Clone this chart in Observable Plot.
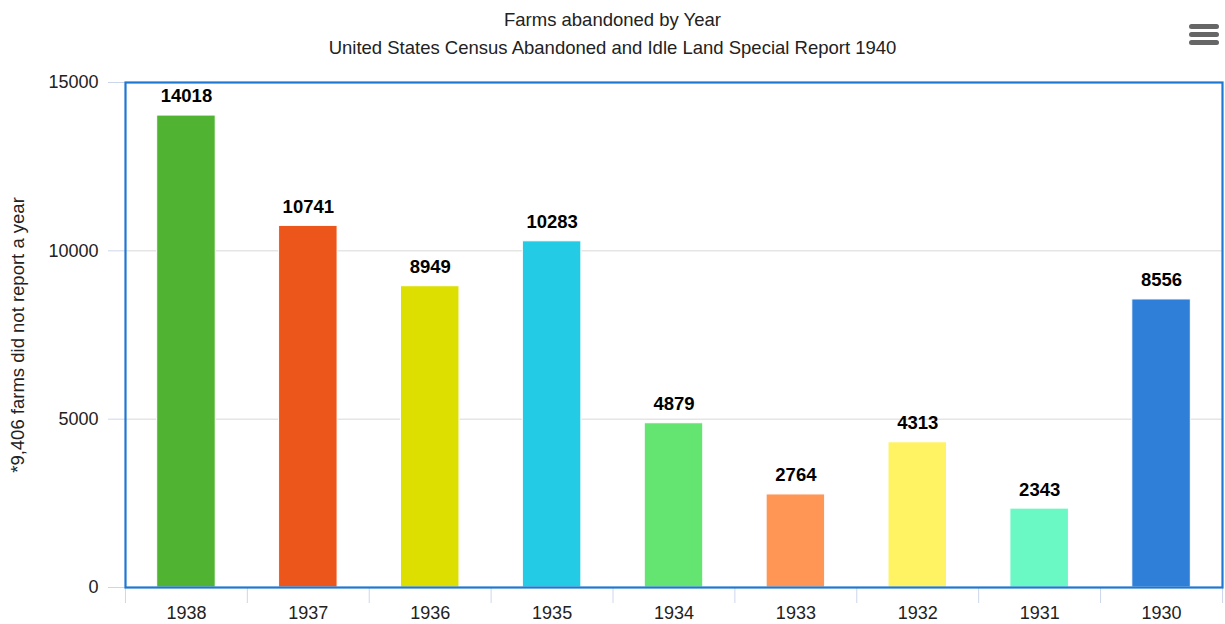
<!DOCTYPE html>
<html>
<head>
<meta charset="utf-8">
<script src="https://cdn.jsdelivr.net/npm/d3@7"></script>
<script src="https://cdn.jsdelivr.net/npm/@observablehq/plot@0.6"></script>
<style>
  html, body { margin: 0; padding: 0; background: #fff; }
  body { font-family: "Liberation Sans", Arial, sans-serif; width: 1225px; height: 624px; overflow: hidden; }
  #header { position: relative; width: 1225px; height: 62px; }
  #title { position: absolute; left: 0; width: 1225px; top: 9px; text-align: center; font-size: 18.5px; color: #222; line-height: 22px; }
  #subtitle { position: absolute; left: 0; width: 1225px; top: 37px; text-align: center; font-size: 18.5px; color: #222; line-height: 22px; }
  #menu { position: absolute; left: 1187px; top: 22px; }
  #chart svg { display: block; }
</style>
</head>
<body>
<div id="header">
  <div id="title"></div>
  <div id="subtitle"></div>
  <svg id="menu" width="34" height="26" viewBox="0 0 34 26">
    <rect x="2" y="2" width="30" height="5" rx="2.5" fill="#666"/>
    <rect x="2" y="10" width="30" height="5" rx="2.5" fill="#666"/>
    <rect x="2" y="18" width="30" height="5" rx="2.5" fill="#666"/>
  </svg>
</div>
<div id="chart"></div>
<script>
const titleText = "Farms abandoned by Year";
const subtitleText = "United States Census Abandoned and Idle Land Special Report 1940";
const yAxisTitle = "*9,406 farms did not report a year";

const years = ["1938", "1937", "1936", "1935", "1934", "1933", "1932", "1931", "1930"];
const farms = [14018, 10741, 8949, 10283, 4879, 2764, 4313, 2343, 8556];
const barColors = ["#50b432", "#ed561b", "#dddf00", "#24cbe5", "#64e572", "#ff9655", "#fff263", "#6af9c4", "#2f7ed8"];
const yTicks = [0, 5000, 10000, 15000];

document.getElementById("title").textContent = titleText;
document.getElementById("subtitle").textContent = subtitleText;

const data = years.map((y, i) => ({year: y, value: farms[i], color: barColors[i]}));

const chart = Plot.plot({
  width: 1225,
  height: 562,
  marginTop: 20,
  marginBottom: 37,
  marginLeft: 125,
  marginRight: 3,
  style: {fontFamily: "'Liberation Sans', Arial, sans-serif", background: "#fff"},
  x: {domain: years, paddingInner: 0.52, paddingOuter: 0.26, round: false},
  y: {domain: [0, 15000]},
  marks: [
    Plot.gridY(yTicks, {stroke: "#d8d8d8", strokeOpacity: 1}),
    Plot.axisY(yTicks, {tickSize: 17, tickPadding: 10, stroke: "#ccd6eb", fill: "#222", fontSize: 18,
      tickFormat: d => String(d),
      label: null}),
    Plot.text([yAxisTitle], {frameAnchor: "left", text: d => d, rotate: -90, dx: -107, fontSize: 18.5, fill: "#222", textAnchor: "middle", lineAnchor: "middle"}),
    Plot.barY(data, {x: "year", y: "value", fill: "color", stroke: "white", strokeWidth: 1}),
    Plot.text(data, {x: "year", y: "value", text: d => String(d.value), dy: -19, lineAnchor: "middle",
      fontWeight: "bold", fontSize: 18.5, fill: "#000"}),
    Plot.ruleX(years, {x: d => d, dx: -61, y1: 0, y2: 0, insetBottom: -16, stroke: "#ccd6eb"}),
    Plot.ruleX([years[years.length - 1]], {x: d => d, dx: 61, y1: 0, y2: 0, insetBottom: -16, stroke: "#ccd6eb"}),
    Plot.axisX({tickSize: 0, tickPadding: 19, fontSize: 18, fill: "#222", label: null}),
    Plot.frame({stroke: "#1e78d2", strokeWidth: 2.2})
  ]
});
document.getElementById("chart").appendChild(chart);
</script>
</body>
</html>
